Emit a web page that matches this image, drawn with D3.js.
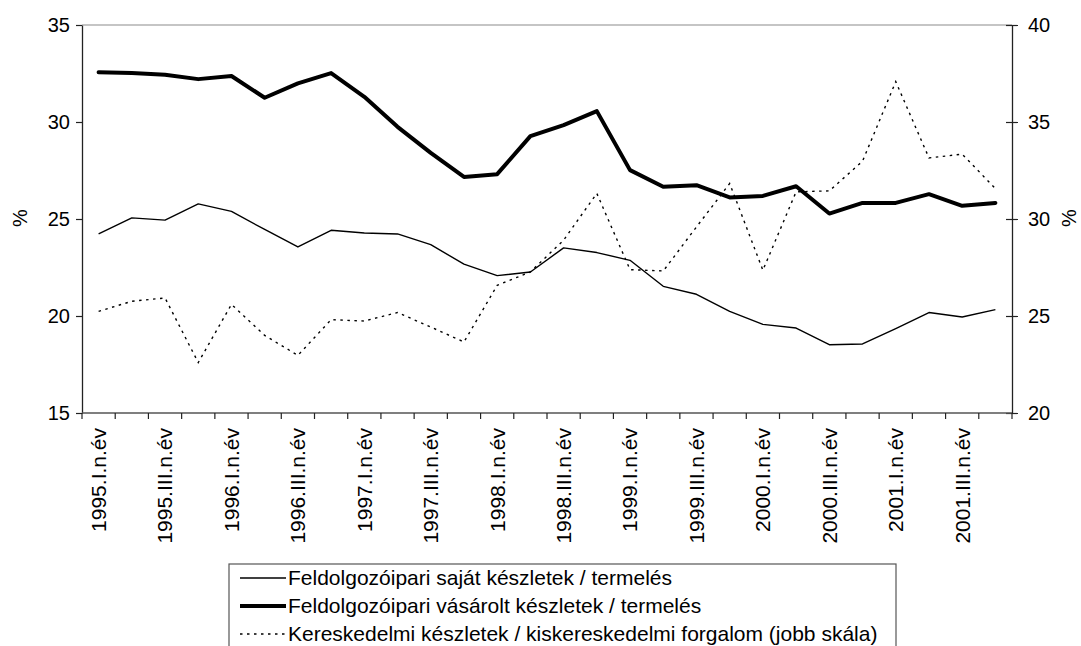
<!DOCTYPE html>
<html>
<head>
<meta charset="utf-8">
<script src="https://cdn.jsdelivr.net/npm/d3@7"></script>
<style>
  html, body { margin: 0; padding: 0; background: #fff; }
  svg { display: block; font-family: Arial, "Liberation Sans", sans-serif; }
</style>
</head>
<body>
<svg id="chart" width="1081" height="646"></svg>
<script>
const categories = [
  "1995.I.n.év","1995.II.n.év","1995.III.n.év","1995.IV.n.év",
  "1996.I.n.év","1996.II.n.év","1996.III.n.év","1996.IV.n.év",
  "1997.I.n.év","1997.II.n.év","1997.III.n.év","1997.IV.n.év",
  "1998.I.n.év","1998.II.n.év","1998.III.n.év","1998.IV.n.év",
  "1999.I.n.év","1999.II.n.év","1999.III.n.év","1999.IV.n.év",
  "2000.I.n.év","2000.II.n.év","2000.III.n.év","2000.IV.n.év",
  "2001.I.n.év","2001.II.n.év","2001.III.n.év","2001.IV.n.év"
];
// shown x tick labels (every other quarter)
const shownLabels = [
  "1995.I.n.év","1995.III.n.év","1996.I.n.év","1996.III.n.év",
  "1997.I.n.év","1997.III.n.év","1998.I.n.év","1998.III.n.év",
  "1999.I.n.év","1999.III.n.év","2000.I.n.év","2000.III.n.év",
  "2001.I.n.év","2001.III.n.év"
];
const ownStocks = [24.23,25.06,24.94,25.78,25.39,24.46,23.56,24.42,24.28,24.23,
  23.68,22.67,22.08,22.27,23.51,23.27,22.87,21.53,21.12,20.24,
  19.57,19.38,18.52,18.56,19.35,20.18,19.95,20.33];
const purchasedStocks = [32.57,32.52,32.44,32.21,32.37,31.25,31.99,32.52,31.30,29.75,
  28.41,27.17,27.31,29.27,29.84,30.56,27.52,26.66,26.74,26.11,
  26.19,26.69,25.28,25.83,25.83,26.28,25.68,25.83];
const tradeStocks = [25.24,25.76,25.93,22.60,25.60,24.00,22.97,24.81,24.74,25.18,
  24.43,23.66,26.58,27.27,28.91,31.32,27.39,27.32,29.59,31.83,
  27.36,31.40,31.45,32.98,37.08,33.15,33.34,31.57];
const leftTicks = [15,20,25,30,35];
const rightTicks = [20,25,30,35,40];
const seriesNames = [
  "Feldolgozóipari saját készletek / termelés",
  "Feldolgozóipari vásárolt készletek / termelés",
  "Kereskedelmi készletek / kiskereskedelmi forgalom (jobb skála)"
];
const axisTitle = "%";

const svg = d3.select("#chart");
const L = 82, R = 1012, T = 25, B = 413;
const x = d3.scaleBand().domain(categories).range([L, R]).padding(0);
const yL = d3.scaleLinear().domain([15, 35]).range([B, T]);
const yR = d3.scaleLinear().domain([20, 40]).range([B, T]);
const cx = c => x(c) + x.bandwidth() / 2;
const fs = 20;

// top border
svg.append("line").attr("x1", L).attr("x2", R).attr("y1", T).attr("y2", T)
  .attr("stroke", "#8c8c8c").attr("stroke-width", 1.2);

// left axis
const gL = svg.append("g").attr("transform", `translate(${L},0)`)
  .call(d3.axisLeft(yL).tickValues(leftTicks).tickSize(6).tickPadding(6).tickSizeOuter(0));
gL.select(".domain").attr("stroke", "#222").attr("stroke-width", 1.3);
gL.selectAll(".tick line").attr("stroke", "#222").attr("stroke-width", 1.2);
gL.selectAll("text").attr("font-size", fs).attr("fill", "#000").attr("font-family", "Arial, 'Liberation Sans', sans-serif");

// right axis (ticks cross)
const gR = svg.append("g").attr("transform", `translate(${R},0)`)
  .call(d3.axisRight(yR).tickValues(rightTicks).tickSize(6).tickPadding(10).tickSizeOuter(0));
gR.select(".domain").attr("stroke", "#222").attr("stroke-width", 1.3);
gR.selectAll(".tick line").attr("x1", -6).attr("x2", 6).attr("stroke", "#222").attr("stroke-width", 1.2);
gR.selectAll("text").attr("font-size", fs).attr("fill", "#000").attr("font-family", "Arial, 'Liberation Sans', sans-serif");

// bottom axis: ticks at category boundaries
svg.append("line").attr("x1", L).attr("x2", R).attr("y1", B).attr("y2", B)
  .attr("stroke", "#555").attr("stroke-width", 1.3);
const boundaries = categories.map(c => x(c)).concat([R]);
svg.append("g").selectAll("line").data(boundaries).join("line")
  .attr("x1", d => d).attr("x2", d => d).attr("y1", B).attr("y2", B + 6)
  .attr("stroke", "#222").attr("stroke-width", 1.2);
svg.append("g").selectAll("text").data(shownLabels).join("text")
  .attr("transform", d => `translate(${cx(d)},${B + 15}) rotate(-90)`)
  .attr("text-anchor", "end").attr("dy", "0.35em")
  .attr("font-size", 21).attr("fill", "#000").text(d => d);

// axis titles
svg.append("text").attr("transform", `translate(20,218) rotate(-90)`)
  .attr("text-anchor", "middle").attr("dy", "0.35em").attr("font-size", fs).text(axisTitle);
svg.append("text").attr("transform", `translate(1069,218) rotate(-90)`)
  .attr("text-anchor", "middle").attr("dy", "0.35em").attr("font-size", fs).text(axisTitle);

// lines
const lineL = d3.line().x((d, i) => cx(categories[i])).y(d => yL(d));
const lineR = d3.line().x((d, i) => cx(categories[i])).y(d => yR(d));
svg.append("path").datum(tradeStocks).attr("d", lineR)
  .attr("fill", "none").attr("stroke", "#000").attr("stroke-width", 1.4)
  .attr("stroke-dasharray", "2.5,4.5");
svg.append("path").datum(ownStocks).attr("d", lineL)
  .attr("fill", "none").attr("stroke", "#000").attr("stroke-width", 1.4)
  .attr("stroke-linejoin", "round");
svg.append("path").datum(purchasedStocks).attr("d", lineL)
  .attr("fill", "none").attr("stroke", "#000").attr("stroke-width", 4)
  .attr("stroke-linejoin", "round").attr("stroke-linecap", "round");

// legend
const lg = svg.append("g");
lg.append("rect").attr("x", 229).attr("y", 564).attr("width", 667).attr("height", 100)
  .attr("fill", "#fff").attr("stroke", "#555").attr("stroke-width", 1.2);
const styles = [
  {w: 1.4, dash: null},
  {w: 4, dash: null},
  {w: 1.4, dash: "2.5,4.5"}
];
const rowsY = [578, 606, 634];
seriesNames.forEach((name, i) => {
  lg.append("line").attr("x1", 240).attr("x2", 286).attr("y1", rowsY[i]).attr("y2", rowsY[i])
    .attr("stroke", "#000").attr("stroke-width", styles[i].w)
    .attr("stroke-dasharray", styles[i].dash);
  lg.append("text").attr("x", 288).attr("y", rowsY[i]).attr("dy", "0.35em")
    .attr("font-size", 21).attr("fill", "#000").text(name);
});
</script>
</body>
</html>
